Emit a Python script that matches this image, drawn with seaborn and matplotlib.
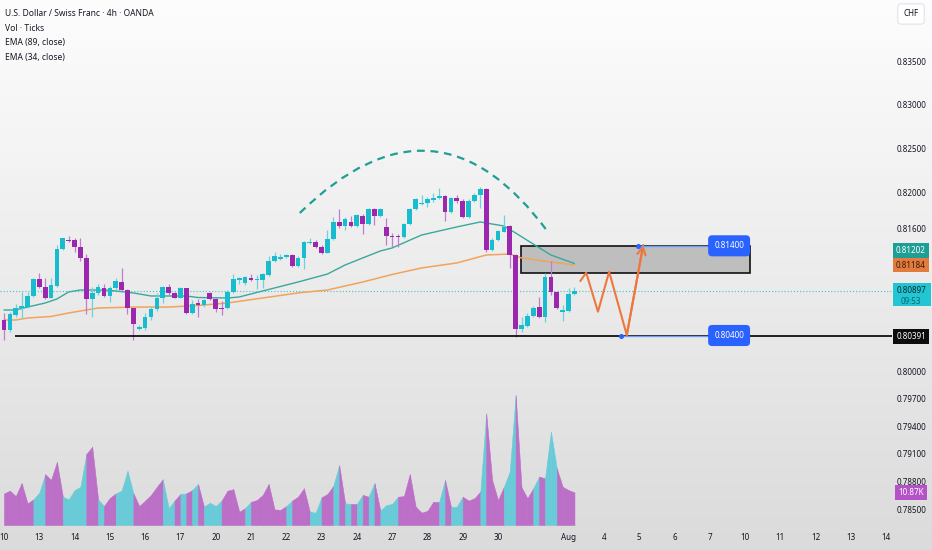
import numpy as np
import matplotlib
matplotlib.use("Agg")
import matplotlib.pyplot as plt
from matplotlib.path import Path
from matplotlib.patches import PathPatch, Rectangle
from matplotlib.ticker import FixedLocator, NullLocator
import seaborn as sns

# USD/CHF 4h candles (OANDA), Jul 10 -> Aug 1
open_ = [0.80572, 0.80461, 0.80627, 0.80705, 0.80716, 0.80839,
         0.81029, 0.80939, 0.80817, 0.80950, 0.81365, 0.81465,
         0.81465, 0.81387, 0.81264, 0.80806, 0.80873, 0.80928,
         0.80839, 0.80928, 0.80995, 0.80906, 0.80705, 0.80472,
         0.80483, 0.80605, 0.80694, 0.80817, 0.80939, 0.80873,
         0.80817, 0.80928, 0.80650, 0.80761, 0.80738, 0.80873,
         0.80806, 0.80705, 0.80705, 0.80884, 0.81017, 0.80984,
         0.81040, 0.81017, 0.81017, 0.81073, 0.81230, 0.81253,
         0.81275, 0.81297, 0.81174, 0.81264, 0.81432, 0.81443,
         0.81387, 0.81320, 0.81476, 0.81668, 0.81623, 0.81668,
         0.81623, 0.81735, 0.81645, 0.81813, 0.81735, 0.81612,
         0.81510, 0.81510, 0.81499, 0.81645, 0.81813, 0.81870,
         0.81882, 0.81915, 0.81939, 0.81961, 0.81780, 0.81939,
         0.81904, 0.81724, 0.81904, 0.81972, 0.82039, 0.81353,
         0.81465, 0.81555, 0.81623, 0.81297, 0.80472, 0.80505,
         0.80616, 0.80716, 0.80605, 0.81051, 0.80884, 0.80661,
         0.80672, 0.80861]
high = [0.80650, 0.80661, 0.80749, 0.80884, 0.80884, 0.81039,
        0.81096, 0.81040, 0.81040, 0.81409, 0.81488, 0.81510,
        0.81488, 0.81488, 0.81308, 0.80939, 0.80972, 0.80972,
        0.80950, 0.81040, 0.81152, 0.80917, 0.80705, 0.80516,
        0.80650, 0.80727, 0.80873, 0.80950, 0.80972, 0.80884,
        0.80939, 0.80928, 0.80794, 0.80806, 0.80806, 0.80884,
        0.80817, 0.80783, 0.80906, 0.81084, 0.81051, 0.81062,
        0.81084, 0.81073, 0.81096, 0.81286, 0.81331, 0.81308,
        0.81308, 0.81308, 0.81286, 0.81454, 0.81488, 0.81465,
        0.81409, 0.81577, 0.81724, 0.81815, 0.81724, 0.81735,
        0.81757, 0.81757, 0.81824, 0.81824, 0.81824, 0.81713,
        0.81544, 0.81532, 0.81656, 0.81824, 0.81939, 0.81972,
        0.81950, 0.81995, 0.82053, 0.81972, 0.81950, 0.81972,
        0.81928, 0.81928, 0.81995, 0.82064, 0.82053, 0.81488,
        0.81577, 0.81746, 0.81634, 0.81308, 0.80605, 0.80650,
        0.80727, 0.80828, 0.81096, 0.81230, 0.80895, 0.80738,
        0.80928, 0.80939]
low = [0.80350, 0.80439, 0.80605, 0.80594, 0.80705, 0.80828,
       0.80928, 0.80806, 0.80817, 0.80939, 0.81353, 0.81443,
       0.81331, 0.81230, 0.80638, 0.80605, 0.80850, 0.80828,
       0.80772, 0.80906, 0.80895, 0.80638, 0.80350, 0.80461,
       0.80461, 0.80572, 0.80672, 0.80761, 0.80850, 0.80817,
       0.80817, 0.80638, 0.80638, 0.80605, 0.80716, 0.80794,
       0.80661, 0.80627, 0.80694, 0.80873, 0.80972, 0.80961,
       0.81006, 0.80917, 0.80928, 0.81062, 0.81219, 0.81241,
       0.81264, 0.81163, 0.81163, 0.81141, 0.81420, 0.81376,
       0.81308, 0.81320, 0.81465, 0.81600, 0.81577, 0.81612,
       0.81612, 0.81532, 0.81634, 0.81634, 0.81724, 0.81409,
       0.81387, 0.81387, 0.81488, 0.81634, 0.81802, 0.81859,
       0.81837, 0.81893, 0.81928, 0.81679, 0.81769, 0.81882,
       0.81713, 0.81713, 0.81893, 0.81824, 0.81331, 0.81342,
       0.81454, 0.81555, 0.81152, 0.80383, 0.80439, 0.80494,
       0.80605, 0.80594, 0.80550, 0.80850, 0.80694, 0.80561,
       0.80661, 0.80850]
close = [0.80461, 0.80638, 0.80705, 0.80727, 0.80839, 0.81029,
         0.80939, 0.80817, 0.80961, 0.81365, 0.81487, 0.81454,
         0.81387, 0.81264, 0.80806, 0.80873, 0.80939, 0.80839,
         0.80928, 0.81006, 0.80906, 0.80705, 0.80527, 0.80494,
         0.80605, 0.80694, 0.80817, 0.80939, 0.80873, 0.80817,
         0.80928, 0.80650, 0.80749, 0.80738, 0.80794, 0.80806,
         0.80694, 0.80694, 0.80884, 0.81029, 0.81040, 0.81051,
         0.81017, 0.81029, 0.81084, 0.81230, 0.81286, 0.81275,
         0.81297, 0.81174, 0.81264, 0.81443, 0.81443, 0.81387,
         0.81320, 0.81476, 0.81668, 0.81623, 0.81702, 0.81623,
         0.81746, 0.81645, 0.81813, 0.81735, 0.81813, 0.81510,
         0.81499, 0.81499, 0.81645, 0.81813, 0.81928, 0.81882,
         0.81928, 0.81939, 0.81961, 0.81780, 0.81939, 0.81904,
         0.81724, 0.81904, 0.81972, 0.82039, 0.81353, 0.81465,
         0.81566, 0.81612, 0.81297, 0.80472, 0.80516, 0.80616,
         0.80705, 0.80605, 0.81051, 0.80884, 0.80705, 0.80683,
         0.80861, 0.80897]
volume_k = [10.5, 11.4, 9.6, 13.9, 7.2, 8.5,
            10.7, 16.9, 15.0, 21.0, 9.4, 8.5,
            11.6, 12.7, 23.6, 26.0, 8.5, 6.3,
            9.0, 10.5, 11.4, 18.0, 10.5, 6.3,
            8.1, 10.0, 12.7, 15.2, 5.6, 8.1,
            10.3, 10.5, 11.6, 13.6, 6.1, 7.4,
            6.3, 8.1, 11.4, 11.9, 4.4, 5.6,
            7.7, 8.3, 10.0, 13.6, 5.2, 5.0,
            6.3, 8.1, 9.4, 12.2, 4.4, 4.1,
            9.2, 10.3, 13.0, 19.9, 7.2, 7.0,
            7.0, 10.0, 9.4, 13.9, 4.8, 6.6,
            7.0, 9.4, 9.6, 16.9, 6.1, 4.1,
            4.7, 7.7, 7.7, 15.0, 6.1, 6.1,
            9.4, 8.1, 8.9, 11.1, 37.1, 15.0,
            8.3, 12.7, 17.7, 43.2, 12.5, 8.9,
            12.2, 16.1, 15.5, 31.0, 18.8, 12.7,
            11.6, 10.87]

# EMA curves (bar index -> price)
ema34_idx = [0, 2, 4, 7, 9, 11, 13, 15, 17, 19, 22, 25, 28, 31, 33, 38, 40,
             44, 50, 55, 58, 61, 64, 66, 71, 77, 81, 83, 85, 87, 90, 93, 97]
ema34_val = [0.80683, 0.80683, 0.80716, 0.80761, 0.80806, 0.80884, 0.80906,
             0.80906, 0.80906, 0.80895, 0.80873, 0.80839, 0.80839, 0.80839,
             0.80822, 0.80817, 0.80828, 0.80895, 0.80995, 0.81084, 0.81185,
             0.81264, 0.81342, 0.81376, 0.81521, 0.81612, 0.81668, 0.81645,
             0.81623, 0.81544, 0.81420, 0.81297, 0.81202]
ema89_idx = [0, 2, 4, 8, 11, 14, 16, 22, 28, 33, 38, 44, 50, 55, 61, 66, 71,
             77, 82, 86, 88, 93, 97]
ema89_val = [0.80572, 0.80572, 0.80594, 0.80611, 0.80650, 0.80683, 0.80705,
             0.80716, 0.80716, 0.80733, 0.80761, 0.80817, 0.80873, 0.80906,
             0.80995, 0.81079, 0.81152, 0.81208, 0.81297, 0.81308, 0.81264,
             0.81219, 0.81184]

day_labels = ["10", "13", "14", "15", "16", "17", "20", "21", "22", "23", "24",
              "27", "28", "29", "30", "", "Aug", "4", "5", "6", "7", "10",
              "11", "12", "13", "14"]
price_ticks = [0.785, 0.788, 0.791, 0.794, 0.797, 0.800,
               0.816, 0.820, 0.825, 0.830, 0.835]

support = 0.80391
last_price = 0.80897
countdown = "09:53"
target_hi = 0.81400
target_lo = 0.80400
zone_lo, zone_hi = 0.81099, 0.81398
zigzag_idx = [98.0, 99.0, 101.0, 102.9, 105.9, 108.7]
zigzag_val = [0.81006, 0.81099, 0.80664, 0.81110, 0.80405, 0.81409]
arc_idx = [50.3, 73.5, 92.5]
arc_val = [0.81769, 0.83287, 0.81555]

BULL, BEAR = "#17bccf", "#9b27af"
BULL_W, BEAR_W = "#6ed2dd", "#c27ccf"
VOL_UP, VOL_DN = "#bb6fc7", "#69cbd7"
TXT = "#131722"
FS = 5.8

sns.set_style("white")
plt.rcParams["font.family"] = ["Noto Sans", "DejaVu Sans"]

W, H = 932, 550
PANE = 892
fig = plt.figure(figsize=(W / 100, H / 100), dpi=100)

# light vertical gradient behind everything
bg = fig.add_axes([0, 0, 1, 1], zorder=-10)
g = np.linspace(253, 219, 256)[:, None] / 255
bg.imshow(np.dstack([g, g, g]), aspect="auto", extent=[0, 1, 0, 1])
bg.axis("off")

XLIM = (-0.68, 151.0)
ax = fig.add_axes([0, 22 / H, PANE / W, 528 / H])
ax.set_facecolor("none")
ax.set_yscale("log")
ax.set_xlim(*XLIM)
ax.set_ylim(0.78295, 0.84205)

n = len(close)
idx = np.arange(n)
o, hi, lo, c = (np.array(a) for a in (open_, high, low, close))
up = c >= o

# zone box
ax.add_patch(Rectangle((87.9, zone_lo), 39.0, zone_hi - zone_lo, fc="#bebebe",
                       ec="#111111", lw=1.2, zorder=1))

# current price dotted line + support line
ax.axhline(last_price, color="#3fc4d2", lw=0.8, ls=(0, (1, 1.8)), zorder=1)
ax.hlines(support, 1.87, XLIM[1], color="#111111", lw=1.3, zorder=5)

# EMAs
sns.lineplot(x=ema89_idx, y=ema89_val, ax=ax, color="#f2a35c", lw=1.1, zorder=2)
sns.lineplot(x=ema34_idx, y=ema34_val, ax=ax, color="#3aa89d", lw=1.0, zorder=2)

# candles
ax.vlines(idx, lo, hi, colors=np.where(up, BULL_W, BEAR_W), lw=0.9, zorder=3)
body = np.maximum(np.abs(c - o), 0.00009)
ax.bar(idx, body, bottom=np.minimum(o, c), width=0.8,
       color=np.where(up, BULL, BEAR), lw=0, zorder=4)

# dashed arc
arc = Path(list(zip(arc_idx, arc_val)), [Path.MOVETO, Path.CURVE3, Path.CURVE3])
ax.add_patch(PathPatch(arc, fill=False, ec="#1f9e96", lw=1.6,
                       ls=(0, (3.5, 2.6)), zorder=6))

# projected path
sns.lineplot(x=zigzag_idx, y=zigzag_val, ax=ax, color="#ec7840", lw=1.5,
             sort=False, zorder=6)
ax.annotate("", xy=(zigzag_idx[-1], zigzag_val[-1]),
            xytext=(zigzag_idx[-2], zigzag_val[-2]),
            arrowprops=dict(arrowstyle="->,head_length=0.55,head_width=0.3",
                            color="#ec7840", lw=1.5, shrinkA=0, shrinkB=0),
            zorder=6)

# price notes
for anchor, val in ((107.8, target_hi), (104.9, target_lo)):
    ax.plot([anchor, 119.5], [val, val], color="#6c9ff0", lw=1.0, zorder=6)
    ax.plot(anchor, val, "o", ms=2.6, color="#2962ff", zorder=7)
    ax.text(123.3, val, f"{val:.5f}", ha="center", va="center", fontsize=FS,
            color="white", zorder=8,
            bbox=dict(boxstyle="round,pad=0.75,rounding_size=0.5", fc="#2962ff", ec="none"))

# axes cosmetics
for s in ax.spines.values():
    s.set_visible(False)
ax.yaxis.tick_right()
ax.yaxis.set_major_locator(FixedLocator(price_ticks))
ax.yaxis.set_minor_locator(NullLocator())
ax.set_yticklabels([f"{p:.5f}" for p in price_ticks])
ax.tick_params(axis="y", length=0, pad=3.6, labelsize=FS, labelcolor=TXT)
pos = [6 * k for k, t in enumerate(day_labels) if t]
ax.set_xticks(pos)
ax.set_xticklabels([t for t in day_labels if t])
ax.tick_params(axis="x", length=0, pad=3.6, labelsize=FS, labelcolor=TXT)
for t in ax.get_xticklabels():
    if t.get_text() == "Aug":
        t.set_fontweight("bold")
ax.set_xlabel("")
ax.set_ylabel("")


def tag(axis, y, text, fc, color, dy=0, box=True):
    bb = dict(boxstyle="square,pad=0.35", fc=fc, ec="none") if box else None
    axis.annotate(text, xy=(1.0, y), xycoords=axis.get_yaxis_transform(),
                  xytext=(13.7, dy), textcoords="offset points", ha="center",
                  va="center", fontsize=FS, color=color, annotation_clip=False,
                  bbox=bb, zorder=10)


tag(ax, ema34_val[-1], f"{ema34_val[-1]:.5f}", "#1f9e96", "white", dy=9.5)
tag(ax, ema89_val[-1], f"{ema89_val[-1]:.5f}", "#e37b3f", "#3a1a08")
# two-line last price tag: plain box behind two coloured lines
ax.add_patch(Rectangle((893 / W, 1 - 306 / H), 38 / W, 23 / H,
                       transform=fig.transFigure, fc="#22c5d3", ec="none",
                       clip_on=False, zorder=9))
tag(ax, last_price, f"{last_price:.5f}", None, "#10282b", box=False)
tag(ax, last_price, countdown, None, "#0b6a73", dy=-7.4, box=False)
tag(ax, support, f"{support:.5f}", "#0d0d0d", "white")

# volume overlay
axv = fig.add_axes([0, 25 / H, PANE / W, 200 / H])
axv.set_xlim(*XLIM)
axv.set_ylim(0, 66.5)
axv.axis("off")
for i in range(1, n):
    col = VOL_UP if up[i] else VOL_DN
    axv.fill_between([i - 1, i], [volume_k[i - 1], volume_k[i]], 0,
                     color=col, lw=0.4, ec=col)
tag(axv, volume_k[-1], f"{volume_k[-1]:.2f}K", "#b552c8", "white", dy=0)

# header text
fig.text(5 / W, 1 - 14 / H, "U.S. Dollar / Swiss Franc · 4h · OANDA", fontsize=FS + 0.3,
         fontweight="bold", color=TXT, va="center")
for k, s in enumerate(["Vol · Ticks", "EMA (89, close)", "EMA (34, close)"]):
    fig.text(5 / W, 1 - (28.5 + 14.3 * k) / H, s, fontsize=FS + 0.3, color=TXT, va="center")
fig.text(911 / W, 1 - 14 / H, "CHF", fontsize=FS, color=TXT, ha="center", va="center",
         bbox=dict(boxstyle="round,pad=0.7,rounding_size=0.4", fc="white", ec="#e0e3eb", lw=0.8))

fig.savefig("out.png", dpi=100)
